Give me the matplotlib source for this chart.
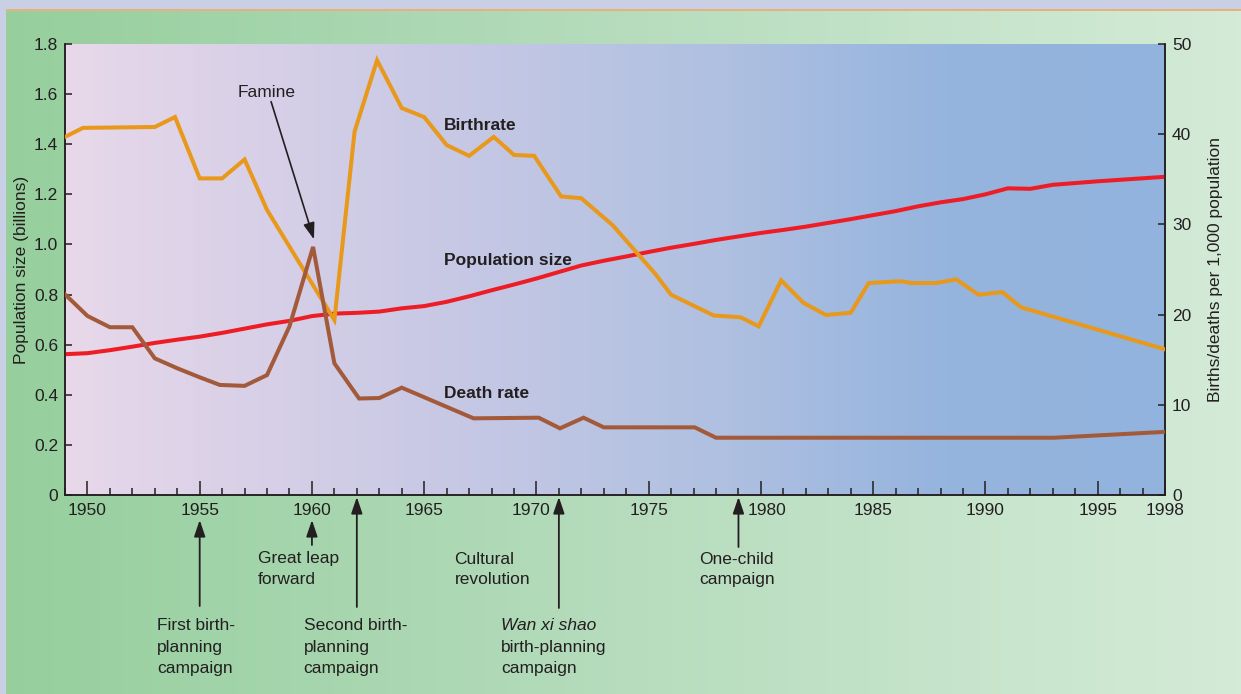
import matplotlib
matplotlib.use('Agg')
import matplotlib.pyplot as plt
import matplotlib.transforms as mtransforms
import numpy as np
from matplotlib.colors import LinearSegmentedColormap

plt.rcParams['font.family'] = ['Liberation Sans', 'DejaVu Sans']

# ---------------- data ----------------
pop_years = list(range(1949, 1999))
pop_billions = [0.562, 0.566, 0.578, 0.592, 0.607, 0.620, 0.632, 0.647, 0.664, 0.681,
                0.695, 0.714, 0.724, 0.727, 0.732, 0.745, 0.754, 0.771, 0.793, 0.817,
                0.840, 0.864, 0.890, 0.916, 0.935, 0.952, 0.970, 0.987, 1.002, 1.018,
                1.032, 1.046, 1.058, 1.071, 1.086, 1.101, 1.117, 1.133, 1.152, 1.168,
                1.181, 1.200, 1.224, 1.222, 1.238, 1.245, 1.252, 1.258, 1.264, 1.270]

birth_years = [1949, 1949.8, 1953.0, 1953.9, 1955.0, 1956.0, 1957.0, 1958.0, 1961.0, 1961.9,
               1962.9, 1964.0, 1965.0, 1966.0, 1967.0, 1968.1, 1969.0, 1969.9, 1971.1, 1972.0,
               1973.4, 1975.3, 1976.0, 1977.9, 1979.1, 1979.9, 1980.9, 1981.9, 1982.9, 1984.0,
               1984.8, 1986.2, 1986.7, 1987.8, 1988.7, 1989.7, 1990.75, 1991.6, 1998.0]
birth_rate = [39.7, 40.7, 40.8, 41.9, 35.1, 35.1, 37.2, 31.6, 19.4, 40.3,
              48.2, 42.9, 41.9, 38.8, 37.6, 39.7, 37.7, 37.6, 33.1, 32.9,
              29.9, 24.5, 22.2, 19.9, 19.7, 18.7, 23.8, 21.3, 19.95, 20.2,
              23.5, 23.7, 23.5, 23.5, 23.9, 22.2, 22.5, 20.8, 16.15]

death_years = [1949, 1950, 1951, 1952, 1953, 1954, 1955, 1955.9, 1957, 1958,
               1959, 1960.05, 1961, 1962.1, 1963, 1964, 1967.2, 1970.1, 1971.05, 1972.1,
               1973, 1977.05, 1978, 1993.05, 1998]
death_rate = [22.25, 19.85, 18.6, 18.6, 15.15, 14.05, 13.05, 12.2, 12.1, 13.3,
              18.7, 27.5, 14.6, 10.7, 10.75, 11.9, 8.5, 8.57, 7.39, 8.57,
              7.5, 7.5, 6.35, 6.35, 7.0]

x_major = [1950, 1955, 1960, 1965, 1970, 1975, 1980, 1985, 1990, 1995, 1998]
left_ticks = [0, 0.2, 0.4, 0.6, 0.8, 1.0, 1.2, 1.4, 1.6, 1.8]
left_labels = ['0', '0.2', '0.4', '0.6', '0.8', '1.0', '1.2', '1.4', '1.6', '1.8']
right_ticks = [0, 10, 20, 30, 40, 50]

# ---------------- figure ----------------
W, H = 1241, 694
TXT = '#231f20'
FS = 12.5
fig = plt.figure(figsize=(W / 100, H / 100), dpi=100)
fig.patch.set_facecolor('#c9d0e5')

bg = fig.add_axes([6 / W, 0, (W - 6) / W, (H - 11) / H], zorder=-10)
cmap_g = LinearSegmentedColormap.from_list('g', ['#96cf9d', '#b6dcbd', '#d4ebd7'])
bg.imshow(np.linspace(0, 1, 256)[None, :], aspect='auto', cmap=cmap_g, extent=[0, 1, 0, 1])
bg.axis('off')
fig.add_artist(plt.Rectangle((6 / W, (H - 11) / H), (W - 6) / W, 2 / H,
                             transform=fig.transFigure, color='#e9b07c', lw=0))

ax = fig.add_axes([65 / W, (H - 495) / H, 1100 / W, 451 / H])
cmap_p = LinearSegmentedColormap.from_list(
    'p', [(0, '#e8d8ea'), (0.33, '#c9c9e5'), (0.6, '#afc0e1'), (0.8, '#95b4de'), (1, '#92b3dd')])
ax.imshow(np.linspace(0, 1, 256)[None, :], aspect='auto', cmap=cmap_p,
          extent=[1949, 1998, 0, 1.8], zorder=0)
ax.set_xlim(1949, 1998)
ax.set_ylim(0, 1.8)

ax.plot(pop_years, pop_billions, color='#ee1d25', lw=2.9, zorder=3)

ax2 = ax.twinx()
ax2.plot(birth_years, birth_rate, color='#e8991c', lw=2.9, zorder=3, solid_joinstyle='miter')
ax2.plot(death_years, death_rate, color='#a35a3a', lw=2.9, zorder=3, solid_joinstyle='miter')
ax2.set_ylim(0, 50)
ax2.set_xlim(1949, 1998)

for a in (ax, ax2):
    a.spines['top'].set_visible(False)
    for s in ('left', 'right', 'bottom'):
        a.spines[s].set_color(TXT)
        a.spines[s].set_linewidth(1.1)

ax.set_xticks(x_major)
ax.set_xticks(range(1949, 1999), minor=True)
ax.set_xticklabels([str(v) for v in x_major])
ax.tick_params(axis='x', which='major', direction='in', length=10, width=1.1, pad=6,
               labelsize=FS, colors=TXT)
ax.tick_params(axis='x', which='minor', direction='in', length=5, width=1.1, colors=TXT)
ax.set_yticks(left_ticks)
ax.set_yticklabels(left_labels)
ax.tick_params(axis='y', direction='in', length=5, width=1.1, pad=5, labelsize=FS, colors=TXT)
ax2.set_yticks(right_ticks)
ax2.set_yticklabels([str(v) for v in right_ticks])
ax2.tick_params(axis='y', direction='in', length=5, width=1.1, pad=5, labelsize=FS, colors=TXT)

# nudge the 1970 / 1980 labels away from the event arrows
for lbl in ax.get_xticklabels():
    if lbl.get_text() == '1970':
        lbl.set_transform(lbl.get_transform() + mtransforms.ScaledTranslation(-5 / 100, 0, fig.dpi_scale_trans))
    elif lbl.get_text() == '1980':
        lbl.set_transform(lbl.get_transform() + mtransforms.ScaledTranslation(6 / 100, 0, fig.dpi_scale_trans))

ax.set_ylabel('Population size (billions)', fontsize=FS, color=TXT)
ax.yaxis.set_label_coords(-0.0327, 0.5)
ax2.set_ylabel('Births/deaths per 1,000 population', fontsize=FS, color=TXT)
ax2.yaxis.set_label_coords(1.0391, 0.5)

# series labels
ax.text(1965.88, 1.473, 'Birthrate', fontsize=FS, fontweight='bold', color=TXT,
        ha='left', va='center', zorder=5)
ax.text(1965.88, 0.935, 'Population size', fontsize=FS, fontweight='bold', color=TXT,
        ha='left', va='center', zorder=5)
ax.text(1965.88, 0.407, 'Death rate', fontsize=FS, fontweight='bold', color=TXT,
        ha='left', va='center', zorder=5)

# famine annotation
ax.text(1958.0, 1.608, 'Famine', fontsize=FS, color=TXT, ha='center', va='center', zorder=5)
ax.annotate('', xy=(1960.09, 1.02), xytext=(1958.18, 1.57),
            arrowprops=dict(arrowstyle='-|>,head_length=0.5,head_width=0.17', color=TXT,
                            lw=1.2, mutation_scale=20, shrinkA=0, shrinkB=0), zorder=6)

# event arrows below the axis
arrow_kw = dict(arrowstyle='-|>,head_length=0.5,head_width=0.17', color=TXT,
                lw=1.3, mutation_scale=20, shrinkA=0, shrinkB=0)
for yr, tip, tail in [(1955, 520, 606), (1960, 520, 545), (1962, 497, 607),
                      (1971, 497, 608), (1979, 497, 547)]:
    ax.annotate('', xy=(yr, H - tip), xytext=(yr, H - tail),
                xycoords=('data', 'figure pixels'), textcoords=('data', 'figure pixels'),
                arrowprops=arrow_kw, annotation_clip=False)


def lines(x, y0, items, step=21.5):
    for i, (txt, style) in enumerate(items):
        ax.annotate(txt, xy=(x, H - (y0 + i * step)), xycoords=('data', 'figure pixels'),
                    ha='left', va='center', fontsize=FS, color=TXT, style=style,
                    annotation_clip=False)


lines(1953.11, 626, [('First birth-', 'normal'), ('planning', 'normal'), ('campaign', 'normal')])
lines(1957.58, 559, [('Great leap', 'normal'), ('forward', 'normal')], step=20.5)
lines(1959.63, 626, [('Second birth-', 'normal'), ('planning', 'normal'), ('campaign', 'normal')])
lines(1966.35, 559, [('Cultural', 'normal'), ('revolution', 'normal')], step=20.5)
lines(1968.44, 626, [('Wan xi shao', 'italic'), ('birth-planning', 'normal'), ('campaign', 'normal')])
lines(1977.26, 559, [('One-child', 'normal'), ('campaign', 'normal')], step=20.5)

fig.savefig('out.png', dpi=100, facecolor=fig.get_facecolor())
